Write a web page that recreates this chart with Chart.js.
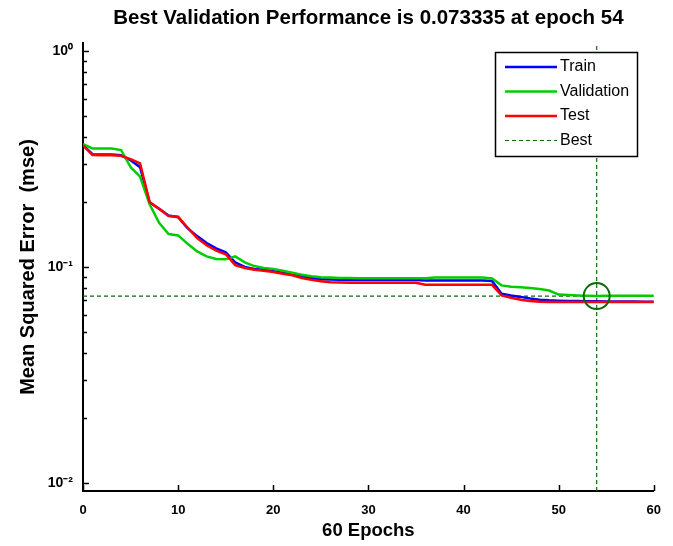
<!DOCTYPE html>
<html>
<head>
<meta charset="utf-8">
<script src="https://cdn.jsdelivr.net/npm/chart.js@4"></script>
<style>
  html, body { margin: 0; padding: 0; background: #fff; }
  #perfChart { display: block; }
</style>
</head>
<body>
<canvas id="perfChart" width="673" height="546"></canvas>
<script>
const epochs = [0, 1, 2, 3, 4, 5, 6, 7, 8, 9, 10, 11, 12, 13, 14, 15, 16, 17, 18, 19, 20,
  21, 22, 23, 24, 25, 26, 27, 28, 29, 30, 31, 32, 33, 34, 35, 36, 37, 38, 39, 40,
  41, 42, 43, 44, 45, 46, 47, 48, 49, 50, 51, 52, 53, 54, 55, 56, 57, 58, 59, 60];

const trainPerf = [0.366, 0.333, 0.332, 0.332, 0.329, 0.312, 0.290, 0.199, 0.186, 0.173, 0.170,
  0.151, 0.139, 0.129, 0.122, 0.117, 0.105, 0.100, 0.098, 0.097, 0.0955,
  0.094, 0.0925, 0.0905, 0.089, 0.0878, 0.0874, 0.0872, 0.087, 0.087, 0.087,
  0.087, 0.087, 0.087, 0.087, 0.087, 0.0866, 0.0866, 0.0866, 0.0866, 0.0866,
  0.0866, 0.0865, 0.0862, 0.0752, 0.0738, 0.0727, 0.0714, 0.0706, 0.0701, 0.0698,
  0.0696, 0.0695, 0.0694, 0.0694, 0.0693, 0.0693, 0.0692, 0.0692, 0.0691, 0.0691];

const valPerf = [0.370, 0.354, 0.354, 0.354, 0.348, 0.290, 0.262, 0.195, 0.160, 0.142, 0.140,
  0.128, 0.118, 0.112, 0.1088, 0.1085, 0.112, 0.105, 0.101, 0.099, 0.098,
  0.096, 0.094, 0.092, 0.0905, 0.0897, 0.0893, 0.089, 0.089, 0.0888, 0.0888,
  0.0888, 0.0888, 0.0888, 0.0888, 0.0888, 0.0888, 0.0895, 0.0893, 0.0893, 0.0893,
  0.0893, 0.0893, 0.0885, 0.0822, 0.0810, 0.0806, 0.0800, 0.0790, 0.0778, 0.0745,
  0.0741, 0.0738, 0.0736, 0.073335, 0.0735, 0.0735, 0.0736, 0.0736, 0.0736, 0.0736];

const testPerf = [0.366, 0.330, 0.329, 0.329, 0.327, 0.316, 0.302, 0.200, 0.186, 0.172, 0.171,
  0.152, 0.136, 0.126, 0.119, 0.1145, 0.102, 0.099, 0.097, 0.096, 0.0948,
  0.093, 0.0915, 0.089, 0.0872, 0.0858, 0.085, 0.0847, 0.0845, 0.0845, 0.0845,
  0.0845, 0.0845, 0.0845, 0.0845, 0.0845, 0.0827, 0.0827, 0.0827, 0.0827, 0.0827,
  0.0827, 0.0827, 0.0827, 0.0738, 0.0720, 0.0705, 0.0696, 0.0690, 0.0689, 0.0689,
  0.0689, 0.0689, 0.0689, 0.0689, 0.0689, 0.0689, 0.0689, 0.0689, 0.0689, 0.0689];

const bestEpoch = 54;
const bestPerf = 0.073335;

const xTicks = [0, 10, 20, 30, 40, 50, 60];
const yDecades = [0.01, 0.1, 1];
const yDecadeLabels = ['10⁻²', '10⁻¹', '10⁰'];

const seriesNames = ['Train', 'Validation', 'Test', 'Best'];
const titleText = 'Best Validation Performance is 0.073335 at epoch 54';
const xTitle = '60 Epochs';
const yTitle = 'Mean Squared Error  (mse)';

const yMin = 0.00918;
const yMax = 1.089;
const bestColor = '#0b6b0b';
const fontFam = "'Liberation Sans', Arial, sans-serif";

function toPoints(vals) {
  return epochs.map((e, i) => ({ x: e, y: vals[i] }));
}

// minor log ticks 1..9 x each decade
const yTickVals = [];
yDecades.forEach(d => {
  for (let k = 1; k <= 9; k++) {
    const v = d * k;
    if (v >= yMin && v <= yMax) yTickVals.push(v);
  }
});

const extras = {
  id: 'extras',
  afterDraw(chart) {
    const ctx = chart.ctx;
    const area = chart.chartArea;
    const xs = chart.scales.x;
    const ys = chart.scales.y;
    ctx.save();

    // inward tick marks
    ctx.strokeStyle = '#000';
    ctx.lineWidth = 1.5;
    ctx.beginPath();
    xTicks.forEach(v => {
      const px = Math.round(xs.getPixelForValue(v)) + 0.5;
      ctx.moveTo(px, area.bottom);
      ctx.lineTo(px, area.bottom - 6);
    });
    yTickVals.forEach(v => {
      const py = Math.round(ys.getPixelForValue(v)) + 0.5;
      const major = yDecades.some(d => Math.abs(d - v) < d * 1e-6);
      ctx.moveTo(area.left, py);
      ctx.lineTo(area.left + (major ? 6 : 4), py);
    });
    ctx.stroke();

    // title
    ctx.fillStyle = '#000';
    ctx.font = 'bold 20.5px ' + fontFam;
    ctx.textAlign = 'center';
    ctx.textBaseline = 'middle';
    ctx.fillText(titleText, (area.left + area.right) / 2, 18);

    // legend
    const bx = 495, by = 52, bw = 142, bh = 104;
    ctx.fillStyle = '#fff';
    ctx.fillRect(bx, by, bw, bh);
    ctx.strokeStyle = '#000';
    ctx.lineWidth = 1.5;
    ctx.strokeRect(bx + 0.5, by + 0.5, bw, bh);
    ctx.font = '16px ' + fontFam;
    ctx.textAlign = 'left';
    ctx.textBaseline = 'middle';
    const legendSets = chart.data.datasets.slice(0, 4);
    legendSets.forEach((ds, i) => {
      const ly = by + 15 + i * 24.5;
      ctx.save();
      ctx.strokeStyle = ds.borderColor;
      ctx.lineWidth = ds.borderDash ? 1.2 : 2.5;
      ctx.setLineDash(ds.borderDash || []);
      ctx.beginPath();
      ctx.moveTo(bx + 10, ly);
      ctx.lineTo(bx + 62, ly);
      ctx.stroke();
      ctx.restore();
      ctx.fillStyle = '#000';
      ctx.fillText(ds.label, bx + 65, ly);
    });

    ctx.restore();
  }
};

new Chart(document.getElementById('perfChart'), {
  type: 'line',
  data: {
    datasets: [
      { label: seriesNames[0], data: toPoints(trainPerf), borderColor: '#0000ff', borderWidth: 2.5, order: 3 },
      { label: seriesNames[1], data: toPoints(valPerf), borderColor: '#00cc00', borderWidth: 2.5, order: 2 },
      { label: seriesNames[2], data: toPoints(testPerf), borderColor: '#ff0000', borderWidth: 2.5, order: 1 },
      {
        label: seriesNames[3],
        data: [
          { x: epochs[0], y: bestPerf }, { x: epochs[epochs.length - 1], y: bestPerf },
          { x: bestEpoch, y: null },
          { x: bestEpoch, y: yMin }, { x: bestEpoch, y: yMax }
        ],
        borderColor: bestColor, borderWidth: 1.2, borderDash: [4, 3], spanGaps: false, order: 4
      },
      {
        label: 'bestCircle',
        data: [{ x: bestEpoch, y: bestPerf }],
        showLine: false, pointRadius: 13, pointBorderWidth: 2,
        pointBorderColor: bestColor, pointBackgroundColor: 'rgba(0,0,0,0)', order: 0
      }
    ]
  },
  options: {
    responsive: false,
    animation: false,
    layout: { padding: { top: 43, right: 17, left: 0, bottom: 0 } },
    elements: { point: { radius: 0 }, line: { tension: 0 } },
    plugins: {
      legend: { display: false },
      title: { display: false },
      tooltip: { enabled: false }
    },
    scales: {
      x: {
        type: 'linear',
        min: 0,
        max: 60,
        afterBuildTicks: s => { s.ticks = xTicks.map(v => ({ value: v })); },
        afterFit: s => { s.height = 55; },
        grid: { display: false, drawTicks: false },
        border: { display: true, color: '#000', width: 2 },
        ticks: {
          padding: 12,
          color: '#000',
          font: { family: fontFam, size: 13, weight: 'bold' }
        },
        title: {
          display: true,
          text: xTitle,
          color: '#000',
          font: { family: fontFam, size: 18.5, weight: 'bold' },
          padding: { top: 0, bottom: 4 }
        }
      },
      y: {
        type: 'logarithmic',
        min: yMin,
        max: yMax,
        afterBuildTicks: s => { s.ticks = yTickVals.map(v => ({ value: v })); },
        afterFit: s => { s.width = 83; },
        grid: { display: false, drawTicks: false },
        border: { display: true, color: '#000', width: 2 },
        ticks: {
          autoSkip: false,
          padding: 10,
          color: '#000',
          font: { family: fontFam, size: 14, weight: 'bold' },
          callback: v => {
            const i = yDecades.findIndex(d => Math.abs(d - v) < d * 1e-6);
            return i >= 0 ? yDecadeLabels[i] : '';
          }
        },
        title: {
          display: true,
          text: yTitle,
          color: '#000',
          font: { family: fontFam, size: 20, weight: 'bold' },
          padding: { top: 16, bottom: 0 }
        }
      }
    }
  },
  plugins: [extras]
});
</script>
</body>
</html>
